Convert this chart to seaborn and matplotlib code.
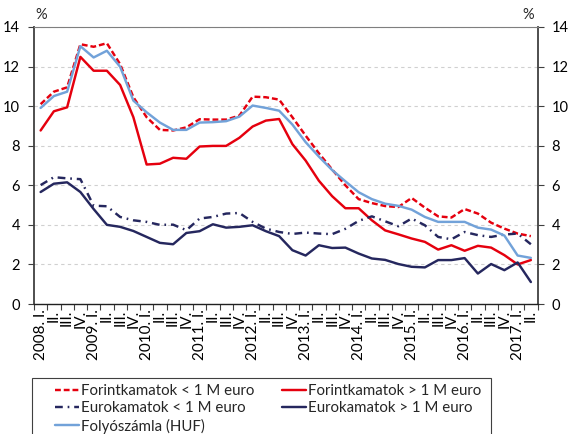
import numpy as np
import pandas as pd
import matplotlib
matplotlib.use("Agg")
import matplotlib.pyplot as plt
import seaborn as sns
from matplotlib.patches import Rectangle

# ---------------- data ----------------
tick_labels = [
    "2008. I.", "II.", "III.", "IV.",
    "2009. I.", "II.", "III.", "IV.",
    "2010. I.", "II.", "III.", "IV.",
    "2011. I.", "II.", "III.", "IV.",
    "2012. I.", "II.", "III.", "IV.",
    "2013. I.", "II.", "III.", "IV.",
    "2014. I.", "II.", "III.", "IV.",
    "2015. I.", "II.", "III.", "IV.",
    "2016. I.", "II.", "III.", "IV.",
    "2017. I.", "II.",
]

forint_small = [10.1, 10.73, 10.95, 13.13, 13.0, 13.18, 12.12, 10.45, 9.44, 8.8,
                8.77, 8.93, 9.34, 9.32, 9.32, 9.52, 10.48, 10.45, 10.33, 9.44,
                8.51, 7.62, 6.8, 6.0, 5.3, 5.1, 4.95, 4.9, 5.36, 4.87,
                4.43, 4.37, 4.8, 4.57, 4.11, 3.81, 3.56, 3.43]
forint_large = [8.77, 9.74, 9.94, 12.49, 11.79, 11.79, 11.07, 9.44, 7.05, 7.09,
                7.39, 7.34, 7.96, 7.99, 7.99, 8.4, 8.97, 9.27, 9.35, 8.08,
                7.25, 6.23, 5.45, 4.84, 4.84, 4.23, 3.72, 3.52, 3.31, 3.14,
                2.75, 2.97, 2.69, 2.94, 2.85, 2.47, 2.0, 2.22]
euro_small = [6.01, 6.41, 6.35, 6.31, 4.97, 4.94, 4.4, 4.23, 4.15, 4.0,
              4.01, 3.73, 4.32, 4.4, 4.57, 4.6, 4.15, 3.81, 3.64, 3.54,
              3.61, 3.56, 3.53, 3.8, 4.2, 4.43, 4.18, 3.93, 4.32, 3.98,
              3.39, 3.27, 3.64, 3.48, 3.39, 3.51, 3.56, 3.02]
euro_large = [5.66, 6.08, 6.15, 5.66, 4.8, 4.0, 3.9, 3.69, 3.39, 3.09,
              3.02, 3.59, 3.68, 4.03, 3.86, 3.9, 3.98, 3.68, 3.43, 2.72,
              2.45, 2.97, 2.83, 2.85, 2.55, 2.3, 2.23, 2.02, 1.88, 1.85,
              2.22, 2.22, 2.32, 1.54, 2.02, 1.71, 2.1, 1.11]
folyo = [9.91, 10.51, 10.73, 13.03, 12.46, 12.8, 11.99, 10.28, 9.69, 9.17,
         8.8, 8.8, 9.17, 9.19, 9.24, 9.47, 10.03, 9.91, 9.77, 9.07,
         8.18, 7.45, 6.77, 6.2, 5.65, 5.3, 5.07, 4.96, 4.77, 4.4,
         4.15, 4.15, 4.15, 3.86, 3.76, 3.46, 2.45, 2.33]

series_names = [
    "Forintkamatok < 1 M euro",
    "Forintkamatok > 1 M euro",
    "Eurokamatok < 1 M euro",
    "Eurokamatok > 1 M euro",
    "Folyószámla (HUF)",
]
series_values = [forint_small, forint_large, euro_small, euro_large, folyo]

# ---------------- styles ----------------
palette = {
    series_names[0]: "#E5000E",
    series_names[1]: "#E5000E",
    series_names[2]: "#25275E",
    series_names[3]: "#25275E",
    series_names[4]: "#72A2D9",
}
dashes = {
    series_names[0]: (2.4, 1.2),
    series_names[1]: "",
    series_names[2]: (3.2, 2.0, 0.7, 2.0),
    series_names[3]: "",
    series_names[4]: "",
}

df = pd.concat(
    [pd.DataFrame({"idx": np.arange(len(tick_labels)), "value": v, "series": n})
     for n, v in zip(series_names, series_values)],
    ignore_index=True,
)

sns.set_theme(style="white")
plt.rcParams["font.family"] = ["Lato", "DejaVu Sans"]

W, H = 570, 434
fig = plt.figure(figsize=(W / 100, H / 100), dpi=100)
ax = fig.add_axes([34 / W, 1 - 304 / H, (537.5 - 34) / W, (304 - 27) / H])

sns.lineplot(data=df, x="idx", y="value", hue="series", style="series",
             hue_order=series_names, style_order=series_names,
             palette=palette, dashes=dashes, linewidth=1.75, ax=ax,
             legend=True, sort=False)

handles, labels = ax.get_legend_handles_labels()
ax.get_legend().remove()
hmap = dict(zip(labels, handles))

ax.set_xlim(-0.5, len(tick_labels) - 0.5)
ax.set_ylim(0, 14)
ax.set_yticks(np.arange(0, 15, 2))
ax.set_xlabel("")
ax.set_ylabel("")

ax.set_xticks(np.arange(len(tick_labels)))
ax.set_xticklabels(tick_labels, rotation=90, fontsize=11, color="#000000")
ax.set_xticks(np.arange(-0.5, len(tick_labels)), minor=True)
ax.tick_params(axis="x", which="major", length=0, pad=4)
ax.tick_params(axis="x", which="minor", length=4, width=0.8, color="#404040",
               direction="out", bottom=True)
ax.tick_params(axis="y", which="major", left=True, right=True,
               labelleft=True, labelright=True, length=4, width=0.8,
               color="#404040", direction="out", labelsize=10.5, pad=6,
               labelcolor="#000000")

ax.yaxis.grid(True, linestyle=(0, (3, 3)), color="#D0D0D0", linewidth=0.8)
ax.xaxis.grid(False)
ax.set_axisbelow(True)

ax.spines["top"].set_color("#7F7F7F")
ax.spines["top"].set_linewidth(0.8)
for s in ["left", "right"]:
    ax.spines[s].set_color("#404040")
    ax.spines[s].set_linewidth(1.3)
ax.spines["bottom"].set_color("#202020")
ax.spines["bottom"].set_linewidth(1.0)

fig.text(41 / W, 1 - 15 / H, "%", ha="center", va="center", fontsize=10.5)
fig.text(528 / W, 1 - 15 / H, "%", ha="center", va="center", fontsize=10.5)

order = [series_names[0], series_names[2], series_names[4],
         series_names[1], series_names[3]]
fig.legend([hmap[n] for n in order], order, ncol=2, loc="upper left",
           bbox_to_anchor=(55 / W, 1 - 384 / H - 0.2, (481 - 55) / W, 0.2),
           mode="expand", frameon=False, borderpad=0, borderaxespad=0,
           handlelength=1.6, handletextpad=0.15, labelspacing=0.22,
           fontsize=10.8, columnspacing=1.0)

fig.patches.append(Rectangle((32 / W, -0.05), (490.7 - 32) / W,
                             1 - 378 / H + 0.05, transform=fig.transFigure,
                             fill=False, edgecolor="#404040", linewidth=0.8))

fig.savefig("out.png", dpi=100)
